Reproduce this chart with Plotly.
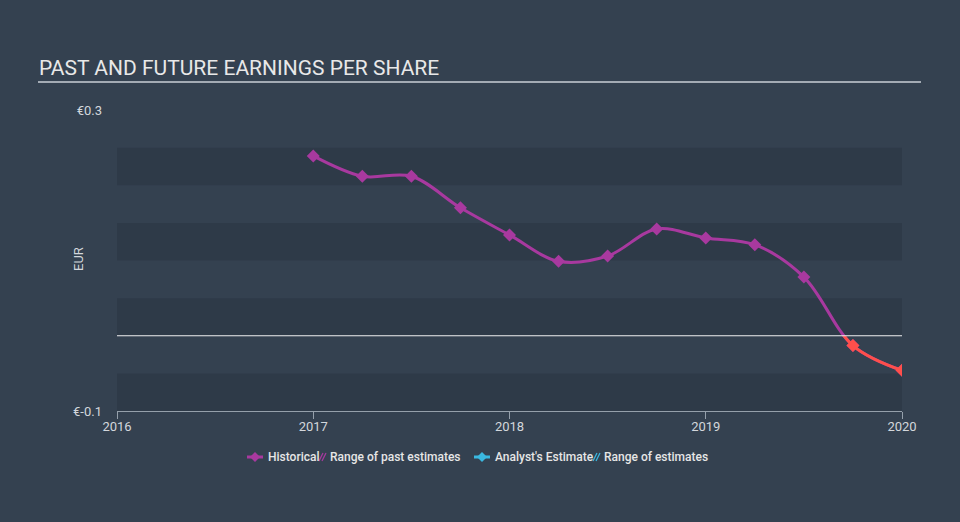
import plotly.graph_objects as go

# ---- data ----
quarters = [2017.0, 2017.25, 2017.5, 2017.75, 2018.0, 2018.25, 2018.5, 2018.75,
            2019.0, 2019.25, 2019.5, 2019.75, 2020.0]
eps = [0.239, 0.212, 0.212, 0.170, 0.134, 0.099, 0.106, 0.142,
       0.130, 0.121, 0.078, -0.013, -0.046]
x_ticks = [2016, 2017, 2018, 2019, 2020]
y_ticks = [-0.1, 0.3]
y_ticktext = ["€-0.1", "€0.3"]
band_edges = [(-0.1, -0.05), (0.0, 0.05), (0.1, 0.15), (0.2, 0.25)]

PURPLE = "#a8399f"
RED = "#ff4f4b"
BLUE = "#3ab8e0"
BG = "#344150"
BAND = "#2e3a48"
TXT = "#d3d7dc"
FONT = "Roboto"

L, R, T, B = 117, 902, 110, 411  # plot box in pixels


def px2paper(px, py):
    return (px - L) / (R - L), (B - py) / (B - T)


fig = go.Figure()

# historical line (purple) on main axes
fig.add_trace(go.Scatter(
    x=quarters, y=eps, mode="lines+markers",
    line=dict(color=PURPLE, width=3, shape="spline", smoothing=1),
    marker=dict(symbol="diamond", size=10, color=PURPLE),
    showlegend=False, hoverinfo="skip"))

# same line, red, on an axis restricted to the negative region (clipped)
fig.add_trace(go.Scatter(
    x=quarters, y=eps, mode="lines+markers", yaxis="y2",
    line=dict(color=RED, width=3, shape="spline", smoothing=1),
    marker=dict(symbol="diamond", size=10, color=RED),
    showlegend=False, hoverinfo="skip"))

shapes = []
for y0, y1 in band_edges:
    shapes.append(dict(type="rect", xref="paper", yref="y", x0=0, x1=1, y0=y0, y1=y1,
                       fillcolor=BAND, line=dict(width=0), layer="below"))
# zero line
shapes.append(dict(type="line", xref="paper", yref="y", x0=0, x1=1, y0=0, y1=0,
                   line=dict(color="#f0f0f0", width=1)))
# title underline
ax0, ay = px2paper(38, 82)
ax1, _ = px2paper(921, 82)
shapes.append(dict(type="line", xref="paper", yref="paper", x0=ax0, x1=ax1, y0=ay, y1=ay,
                   line=dict(color="#a3abb4", width=2)))

annotations = []
tx, ty = px2paper(37, 68)
annotations.append(dict(text="PAST AND FUTURE EARNINGS PER SHARE", xref="paper", yref="paper",
                        x=tx, y=ty, xanchor="left", yanchor="middle", showarrow=False,
                        font=dict(family=FONT, size=21, color="#e8e8e8")))
ex, ey = px2paper(78, 259)
annotations.append(dict(text="EUR", xref="paper", yref="paper", x=ex, y=ey, textangle=-90,
                        xanchor="center", yanchor="middle", showarrow=False,
                        font=dict(family=FONT, size=13, color=TXT)))

# ---- manual legend ----
LY = 457


def diamond(cx, cy, r, color):
    pts = [px2paper(cx, cy - r), px2paper(cx + r, cy), px2paper(cx, cy + r), px2paper(cx - r, cy)]
    path = "M " + " L ".join(f"{a},{b}" for a, b in pts) + " Z"
    return dict(type="path", xref="paper", yref="paper", path=path, fillcolor=color,
                line=dict(width=0))


def legend_line(x0, x1, color):
    a, b = px2paper(x0, LY)
    c, _ = px2paper(x1, LY)
    shapes.append(dict(type="line", xref="paper", yref="paper", x0=a, x1=c, y0=b, y1=b,
                       line=dict(color=color, width=3)))
    shapes.append(diamond((x0 + x1) / 2, LY, 5, color))


def hatch(x0, color):
    for dx in (0, 3):
        a, b = px2paper(x0 + dx, LY + 4)
        c, d = px2paper(x0 + dx + 4, LY - 4)
        shapes.append(dict(type="line", xref="paper", yref="paper", x0=a, x1=c, y0=b, y1=d,
                           line=dict(color=color, width=1.2)))


def legend_text(x, text):
    a, b = px2paper(x, LY)
    annotations.append(dict(text=text, xref="paper", yref="paper", x=a, y=b, xanchor="left",
                            yanchor="middle", showarrow=False,
                            font=dict(family=FONT, size=12, color="#e6e6e6", weight=500)))


legend_line(247, 263, PURPLE)
legend_text(266, "Historical")
hatch(319, PURPLE)
legend_text(328, "Range of past estimates")
legend_line(474, 490, BLUE)
legend_text(493, "Analyst's Estimate")
hatch(593, BLUE)
legend_text(602, "Range of estimates")

fig.update_layout(
    width=960, height=522,
    margin=dict(l=L, r=960 - R, t=T, b=522 - B),
    paper_bgcolor=BG, plot_bgcolor="rgba(0,0,0,0)",
    font=dict(family=FONT, color=TXT, size=12),
    showlegend=False,
    xaxis=dict(range=[2016, 2020], tickvals=x_ticks, ticktext=[str(v) for v in x_ticks],
               showgrid=False, zeroline=False, showline=True, linecolor="#95a0ab", linewidth=1,
               ticks="outside", ticklen=7, tickcolor="#95a0ab", tickwidth=1,
               ticklabelstandoff=-4,
               tickfont=dict(family=FONT, size=13, color=TXT), fixedrange=True),
    yaxis=dict(range=[-0.1, 0.3], tickvals=y_ticks, ticktext=y_ticktext, showgrid=False,
               zeroline=False, showline=False, ticks="", ticklabelstandoff=14,
               tickfont=dict(family=FONT, size=13, color=TXT), domain=[0, 1], fixedrange=True),
    yaxis2=dict(range=[-0.1, 0.0], domain=[0, 0.25], anchor="x", visible=False,
                showgrid=False, zeroline=False, fixedrange=True),
    shapes=shapes, annotations=annotations,
)

fig.write_html("out.html")
